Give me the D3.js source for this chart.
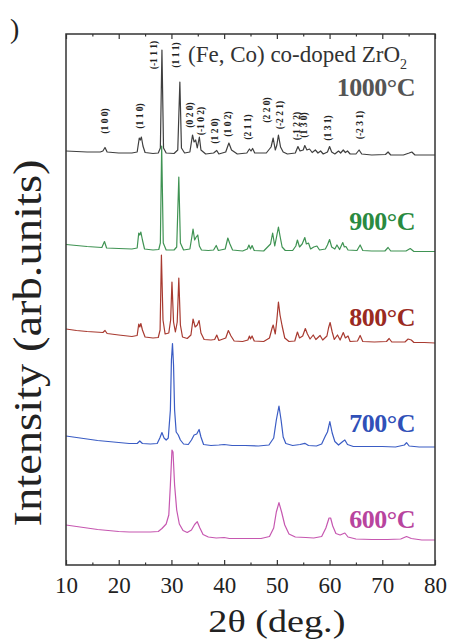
<!DOCTYPE html>
<html>
<head>
<meta charset="utf-8">
<script src="https://cdn.jsdelivr.net/npm/d3@7"></script>
<style>
  body { margin: 0; background: #fff; }
  svg text { font-family: 'Liberation Serif', 'Times New Roman', serif; }
</style>
</head>
<body>
<div id="vis"></div>
<script>
// 2theta (deg.) and stacked intensity (arb. units) for each calcination temperature
const x1000 = [10.0,12.0,14.0,16.5,17.0,17.4,17.8,20.0,22.5,23.5,23.9,24.1,24.3,24.6,25.0,26.5,27.5,27.9,28.2,28.5,29.0,30.5,31.2,31.6,31.9,32.5,33.5,34.0,34.3,34.6,34.9,35.3,35.6,36.5,38.0,38.6,39.0,40.3,40.9,41.4,42.5,44.3,44.8,45.1,45.4,45.8,48.0,48.9,49.3,49.7,50.0,50.3,50.7,51.2,52.0,53.5,54.0,54.4,55.0,55.3,55.7,56.2,56.7,57.3,57.8,58.3,58.8,59.6,60.0,60.4,61.0,61.7,62.1,62.6,63.0,63.4,63.9,65.0,65.6,66.1,68.0,70.6,71.1,71.6,74.0,75.1,75.6,76.2,78.0,80.0];
const y1000 = [414,413.5,413,413,414,417.5,413,412,412,413,427,425,428,419,412.5,411.5,412,417,515,417,412,411.5,415,483,417,412,413,430,423,425,417,428,415,411,412,414.5,411,413,422,415,411,412,416,414,416.5,412,412,418,427,415,420,430,418,413,411,412,418.5,414,415,419.5,415,416,412.5,415,412,414,411,413,418.5,413,411,414,412,415,412.5,414,411,411,415,411,410,410.5,413,410,410,412,413,410,410,410];

const x900 = [10.0,12.0,14.0,16.8,17.3,17.7,20.0,22.5,23.5,23.8,24.0,24.2,24.5,24.9,26.5,27.6,27.9,28.15,28.45,29.0,30.5,31.0,31.4,31.7,32.3,33.5,33.9,34.1,34.4,34.7,35.0,35.3,35.7,37.0,38.0,38.5,38.9,40.2,40.7,41.1,41.6,43.5,44.4,44.7,45.0,45.3,45.7,47.5,48.8,49.2,49.6,49.9,50.3,50.6,51.0,51.6,53.0,53.6,53.9,54.3,54.8,55.3,55.6,56.0,56.4,57.0,57.6,58.1,59.2,59.6,60.0,60.4,61.0,61.4,61.9,62.5,62.8,63.1,63.5,65.2,65.8,66.3,68.0,70.5,71.1,71.6,74.5,75.3,76.0,78.0,80.0];
const y900 = [320.5,319.5,318.5,317.5,323.5,317,316.5,316,317,332,330,333,325,316,315,315.5,322,419,322,315,315,318,388,322,315,316,329,336,325,328,330,319,315,314.5,315,319.5,314.5,316,327,321,315,314,316,320,316,319.5,314.5,314,321,332,319,327,338,329,318,314.5,314.5,319,325,318,321,327.5,321,322,316,318,319,315,316,320,325.5,318,316,320,315.5,322.5,318,318.5,315,314.5,320,314.5,314,314,317.5,314,314,316.5,313.5,313.5,313.5];

const x800 = [10.0,12.0,14.0,17.0,17.4,17.8,20.0,22.5,23.5,23.8,24.0,24.2,24.5,25.0,26.5,27.5,27.85,28.1,28.4,28.8,29.5,29.85,30.1,30.4,30.75,31.1,31.4,31.7,32.1,33.0,33.7,34.1,34.5,34.9,35.25,35.6,36.2,37.5,38.2,38.6,39.0,40.3,40.8,41.3,41.9,43.5,44.5,44.8,45.0,45.3,45.7,47.5,48.6,49.1,49.3,49.7,50.0,50.3,50.6,51.0,51.5,52.3,53.4,53.9,54.3,54.9,55.4,55.8,56.3,56.9,57.4,58.2,58.7,59.5,59.8,60.1,60.5,60.9,61.5,62.0,62.6,63.0,63.5,63.9,65.3,65.8,66.3,68.5,70.8,71.3,71.8,74.3,74.9,75.5,76.0,78.0,80.0];
const y800 = [236,234.5,233.5,232.5,234.5,231.5,230,228.5,229.5,241,238,241.5,235,228,227,227.5,235,310,245,231,232,245,283,243,233,243,287,240,228,226.5,230,246,238,240,244.5,232,225.5,225,225.5,230,224.5,227,234.5,229,224,223.5,225,229,226,229,224,223.5,227,237,240,231,245,263,250,239,227,223.5,224,233,227,229,236.5,231,226,230,225.5,229.5,225,229,237,242.5,233,225.5,230,225,232.5,227,229,223.5,224,229.5,223.5,223,223.5,226.5,223,223,226,225,222.5,222.5,222];

const x700 = [10.0,12.0,14.0,16.0,18.0,20.0,22.0,23.5,24.0,24.5,26.0,27.3,27.8,28.2,28.6,29.0,29.4,29.8,30.0,30.2,30.4,30.6,30.9,31.3,31.7,32.3,33.2,33.8,34.3,34.8,35.25,35.6,36.1,37.5,39.0,40.0,41.5,44.0,46.5,48.5,49.4,49.9,50.4,50.8,51.2,51.7,53.0,54.4,55.3,56.0,57.5,58.5,59.2,59.6,60.05,60.5,61.0,61.7,62.5,62.9,63.4,64.5,67.0,70.0,72.5,74.2,74.6,75.1,77.0,80.0];
const y700 = [129,127.5,126,124.5,123.5,122.5,121.5,121.5,124,121.5,121,121.5,127,132.5,127,125,127,155,205,221.5,200,155,133,130,125,121,120.5,125,130,131,135.5,128,120.5,119.5,120,120.5,119.5,119.5,119,120,127,145,159,145,128,121.5,119.5,120.5,121.7,119.5,119,121,129,133,143.3,132,123.5,120,123.5,125,120.5,118.5,118.5,118.5,118,120,122.3,119,118,118];

const x600 = [10.0,12.0,14.0,16.0,18.0,20.0,22.0,24.0,26.0,27.5,28.2,29.0,29.5,29.8,30.1,30.3,30.6,31.0,31.5,32.2,33.0,33.8,34.4,34.9,35.4,36.0,37.0,38.5,40.0,41.0,43.0,45.0,47.0,48.6,49.4,49.9,50.4,50.9,51.5,52.3,53.5,55.5,57.0,58.5,59.3,59.9,60.2,60.6,61.2,62.0,62.9,63.5,65.0,68.0,71.0,73.5,74.6,75.5,77.5,80.0];
const y600 = [40,38.5,37,35.5,34.5,33.5,33,33,33,33.5,36.5,41,50,80,115,113,80,55,41,34.5,32.5,35,40.5,43.3,37,30.5,28,27,27.5,26.5,26.5,26.5,26.5,28.5,37,53,62.3,53,40,31,28,27.5,27,28.5,37,47,47,39,31.5,30,32,28,26,25.5,25.5,26,28.5,26.5,25,25];

const temps = ['1000°C', '900°C', '800°C', '700°C', '600°C'];
const seriesX = [x1000, x900, x800, x700, x600];
const seriesY = [y1000, y900, y800, y700, y600];
const lineColors = ['#3f3f3f', '#3f9353', '#a83a30', '#3a5cc4', '#c657b0'];
const textColors = ['#555555', '#2a8a40', '#9a2a22', '#3050b8', '#b8449e'];
// label baselines for the temperature text (arb. units)
const tempLabelY = [469, 335, 239, 133, 37];

// Miller indices of the monoclinic reflections, marked over the 1000°C pattern
const hklText = ['(1 0 0)', '(1 1 0)', '(-1 1 1)', '(1 1 1)', '(0 2 0)', '(-1 0 2)', '(1 2 0)', '(1 0 2)', '(2 1 1)', '(2 2 0)', '(-2 2 1)', '(-1 2 2)', '(1 3 0)', '(1 3 1)', '(-2 3 1)'];
const hklX = [17.4, 24.0, 26.7, 30.9, 33.5, 35.6, 38.3, 40.7, 44.5, 48.1, 50.6, 53.8, 55.2, 59.7, 65.8];
const hklY = [444, 449, 510, 510, 450, 444, 434, 441, 438, 455, 450, 439, 440, 437, 440];

const xTicks = [10, 20, 30, 40, 50, 60, 70, 80];
const xMinor = [15, 25, 35, 45, 55, 65, 75];

const width = 451;
const height = 639;
const margin = ({top: 34, right: 16, bottom: 74, left: 66});

const svg = d3.create('svg')
    .attr('width', width)
    .attr('height', height);

const xScale = d3.scaleLinear()
    .domain([10, 80])
    .range([margin.left, width - margin.right]);

const yScale = d3.scaleLinear()
    .domain([0, 531])
    .range([height - margin.bottom, margin.top]);

const serif = "'Liberation Serif', 'Times New Roman', serif";

// traces
const line = d3.line()
    .x(d => xScale(d[0]))
    .y(d => yScale(d[1]));

seriesX.forEach((xs, i) => {
    svg.append('path')
        .datum(xs.map((v, j) => [v, seriesY[i][j]]))
        .attr('fill', 'none')
        .attr('stroke', lineColors[i])
        .attr('stroke-width', 1.2)
        .attr('stroke-linejoin', 'round')
        .attr('d', line);
});

// frame
svg.append('rect')
    .attr('x', margin.left)
    .attr('y', margin.top)
    .attr('width', width - margin.left - margin.right)
    .attr('height', height - margin.top - margin.bottom)
    .attr('fill', 'none')
    .attr('stroke', '#333')
    .attr('stroke-width', 1.5);

// bottom axis, ticks pointing inward
const xAxis = svg.append('g')
    .attr('transform', `translate(0, ${height - margin.bottom})`)
    .call(d3.axisBottom(xScale).tickValues(xTicks).tickSize(-5).tickPadding(12).tickFormat(d3.format('d')))
    .call(g => g.select('.domain').remove());
xAxis.selectAll('.tick line').attr('stroke', '#333').attr('stroke-width', 1.2);
xAxis.selectAll('.tick text')
    .attr('font-family', serif)
    .attr('font-size', 23)
    .attr('fill', '#222');

svg.append('g')
    .attr('transform', `translate(0, ${height - margin.bottom})`)
    .call(d3.axisBottom(xScale).tickValues(xMinor).tickSize(-2.5).tickFormat(''))
    .call(g => g.select('.domain').remove())
    .selectAll('.tick line').attr('stroke', '#333').attr('stroke-width', 1.2);

// top axis mirrors the bottom one
svg.append('g')
    .attr('transform', `translate(0, ${margin.top})`)
    .call(d3.axisTop(xScale).tickValues(xTicks).tickSize(-5).tickFormat(''))
    .call(g => g.select('.domain').remove())
    .selectAll('.tick line').attr('stroke', '#333').attr('stroke-width', 1.2);

svg.append('g')
    .attr('transform', `translate(0, ${margin.top})`)
    .call(d3.axisTop(xScale).tickValues(xMinor).tickSize(-2.5).tickFormat(''))
    .call(g => g.select('.domain').remove())
    .selectAll('.tick line').attr('stroke', '#333').attr('stroke-width', 1.2);

// axis titles
svg.append('text')
    .attr('x', xScale(50))
    .attr('y', 632)
    .attr('text-anchor', 'middle')
    .attr('font-family', serif)
    .attr('font-size', 32)
    .attr('textLength', 137)
    .attr('lengthAdjust', 'spacingAndGlyphs')
    .attr('fill', '#222')
    .text('2θ (deg.)');

svg.append('text')
    .attr('transform', 'translate(41, 343) rotate(-90)')
    .attr('text-anchor', 'middle')
    .attr('font-family', serif)
    .attr('font-size', 40)
    .attr('textLength', 367)
    .attr('lengthAdjust', 'spacingAndGlyphs')
    .attr('fill', '#222')
    .text('Intensity (arb.units)');

// panel letter, cut off at the edge
svg.append('text')
    .attr('x', 10)
    .attr('y', 38)
    .attr('font-family', serif)
    .attr('font-size', 28)
    .attr('fill', '#222')
    .text(')');

// sample title
const title = svg.append('text')
    .attr('x', 188)
    .attr('y', 62)
    .attr('font-family', serif)
    .attr('font-size', 23)
    .attr('fill', '#333');
title.append('tspan').text('(Fe, Co) co-doped ZrO');
title.append('tspan').attr('font-size', 14).attr('dy', 7).text('2');

// temperature labels
temps.forEach((t, i) => {
    svg.append('text')
        .attr('x', 415)
        .attr('y', yScale(tempLabelY[i]))
        .attr('text-anchor', 'end')
        .attr('font-family', serif)
        .attr('font-weight', 700)
        .attr('font-size', 26)
        .attr('letter-spacing', -0.5)
        .attr('fill', textColors[i])
        .text(t);
});

// hkl labels, vertical
hklText.forEach((t, i) => {
    svg.append('text')
        .attr('transform', `translate(${xScale(hklX[i])}, ${yScale(hklY[i])}) rotate(-90)`)
        .attr('text-anchor', 'middle')
        .attr('dominant-baseline', 'central')
        .attr('font-family', serif)
        .attr('font-weight', 700)
        .attr('font-size', 9.5)
        .attr('fill', '#222')
        .text(t);
});

document.getElementById('vis').appendChild(svg.node());
</script>
</body>
</html>
